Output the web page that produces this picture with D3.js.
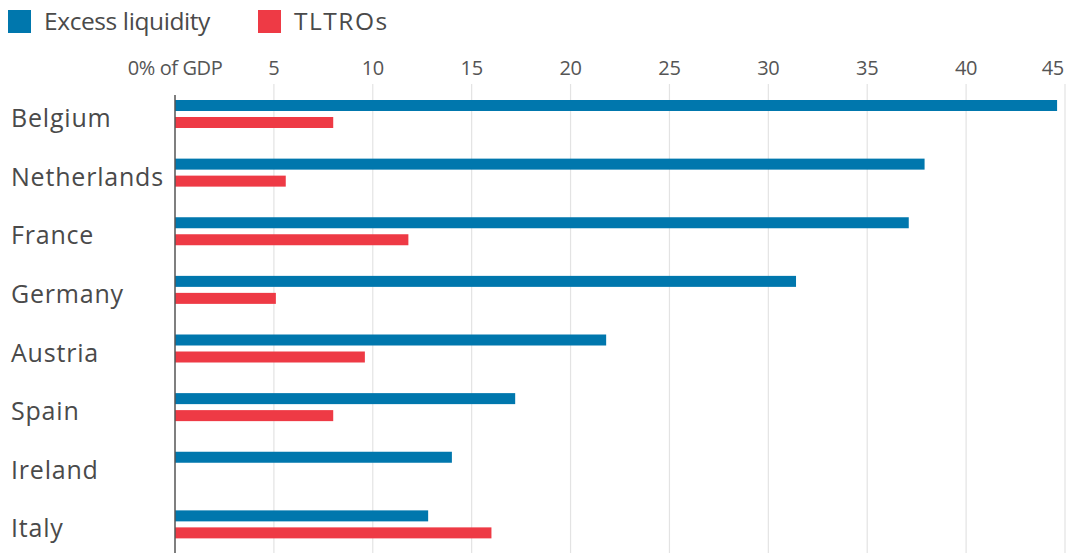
<!DOCTYPE html>
<html><head><meta charset="utf-8">
<script src="https://cdn.jsdelivr.net/npm/d3@7"></script>
<style>body{margin:0;background:#fff}svg{display:block}</style>
</head><body>
<svg id="chart" width="1072" height="553"></svg>
<script>
const countries = ["Belgium","Netherlands","France","Germany","Austria","Spain","Ireland","Italy"];
const excessLiquidity = [44.6, 37.9, 37.1, 31.4, 21.8, 17.2, 14.0, 12.8];
const tltros = [8.0, 5.6, 11.8, 5.1, 9.6, 8.0, 0, 16.0];
const ticks = [0,5,10,15,20,25,30,35,40,45];
const tickLabels = ["0% of GDP","5","10","15","20","25","30","35","40","45"];
const seriesNames = ["Excess liquidity","TLTROs"];
const colors = ["#0077ad","#ee3a45"];

const svg = d3.select("#chart");
const font = "'Open Sans', sans-serif";
const x = d3.scaleLinear().domain([0,45]).range([175, 1065]);
const y = d3.scaleBand().domain(countries).range([92, 561]).paddingInner(0).paddingOuter(0);

// gridlines
svg.append("g").selectAll("line").data(ticks.slice(1)).join("line")
  .attr("x1", d=>x(d)).attr("x2", d=>x(d)).attr("y1", 84).attr("y2", 553)
  .attr("stroke", "#e3e3e3").attr("stroke-width", 1.2);

// tick labels
svg.append("g").selectAll("text").data(ticks).join("text")
  .attr("x", (d,i)=> i===ticks.length-1 ? x(d)-1 : x(d))
  .attr("y", 75)
  .attr("text-anchor", (d,i)=> i===ticks.length-1 ? "end" : "middle")
  .attr("font-family", font).attr("font-size", 20).attr("fill", "#555")
  .attr("letter-spacing", (d,i)=> i===0 ? -0.4 : -0.3)
  .text((d,i)=>tickLabels[i]);

const barH = 11;
const g = svg.append("g");
g.selectAll("rect.ex").data(countries).join("rect").attr("class","ex")
  .attr("x", x(0)).attr("y", d=>y(d)+8)
  .attr("width", (d,i)=>x(excessLiquidity[i])-x(0)).attr("height", barH)
  .attr("fill", colors[0]);
g.selectAll("rect.tl").data(countries).join("rect").attr("class","tl")
  .attr("x", x(0)).attr("y", d=>y(d)+25)
  .attr("width", (d,i)=>x(tltros[i])-x(0)).attr("height", barH)
  .attr("fill", colors[1]);

// zero axis
svg.append("line").attr("x1", x(0)).attr("x2", x(0)).attr("y1", 95).attr("y2", 553)
  .attr("stroke", "#555").attr("stroke-width", 1.5);

// category labels
svg.append("g").selectAll("text").data(countries).join("text")
  .attr("x", 11).attr("y", d=>y(d)+35)
  .attr("font-family", font).attr("font-size", 25).attr("fill", "#4a4a4a")
  .attr("letter-spacing", 0.8)
  .text(d=>d);

// legend
const leg = svg.append("g");
const legX = [8, 258];
const legSpacing = [-0.4, 1.5];
seriesNames.forEach((s,i)=>{
  leg.append("rect").attr("x", legX[i]).attr("y", 10).attr("width", 23).attr("height", 23).attr("fill", colors[i]);
  leg.append("text").attr("x", legX[i]+36).attr("y", 30)
    .attr("font-family", font).attr("font-size", 24.5).attr("fill", "#4a4a4a")
    .attr("letter-spacing", legSpacing[i]).text(s);
});
</script>
</body></html>
